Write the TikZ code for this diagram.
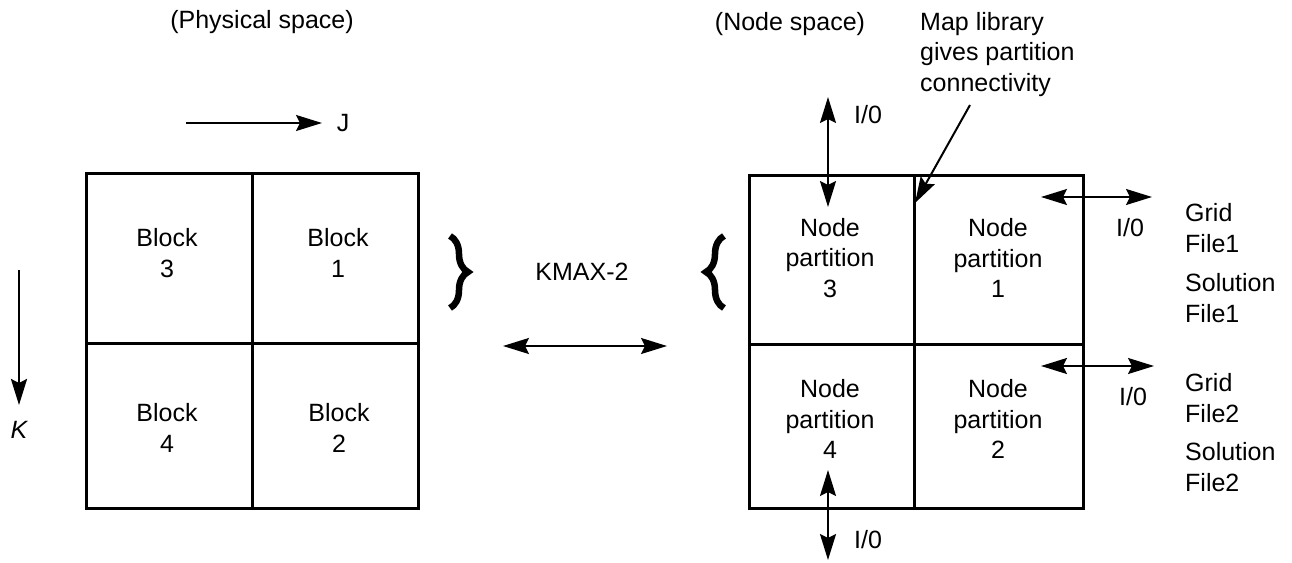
\documentclass[tikz,border=0pt]{standalone}
\usepackage{fontspec}
\setmainfont{Liberation Sans}
\usetikzlibrary{arrows.meta,decorations.pathreplacing}
\begin{document}
\begin{tikzpicture}[x=1pt,y=-1pt,
  txt/.style={font=\fontsize{25}{30.5}\selectfont, align=center, inner sep=0pt},
  ltxt/.style={font=\fontsize{25}{30.5}\selectfont, align=left, inner sep=0pt},
  cell/.style={draw, line width=2.8pt, inner sep=0pt, anchor=north west},
  ar/.style={line width=2pt, -{Stealth[length=26pt,width=16pt,inset=4pt]}},
  dar/.style={line width=2pt, {Stealth[length=26pt,width=16pt,inset=4pt]}-{Stealth[length=26pt,width=16pt,inset=4pt]}},
  brc/.style={decorate, decoration={brace, amplitude=18pt, aspect=0.5}, line width=6.5pt}]
\useasboundingbox (0,0) rectangle (1292,562);

% ---------- left grid (physical space)
\node[cell, minimum width=166pt, minimum height=170pt] (b3) at (85,172) {};
\node[cell, minimum width=166pt, minimum height=170pt] (b1) at (251,172) {};
\node[cell, minimum width=166pt, minimum height=165pt] (b4) at (85,342) {};
\node[cell, minimum width=166pt, minimum height=165pt] (b2) at (251,342) {};
\node[txt] (t3) at (167,253) {Block\\3};
\node[txt] (t1) at (338,253) {Block\\1};
\node[txt] (t4) at (167,428) {Block\\4};
\node[txt] (t2) at (339,428) {Block\\2};

\node[txt] (phys) at (262,22) {(Physical space)};
\node[txt] (J) at (343,123) {J};
\node[txt] (K) at (19,430) {\itshape K};
\coordinate (ja) at (186,123);
\coordinate (jb) at (322,123);
\draw[ar] (ja) -- (jb);
\coordinate (ka) at (19,270);
\coordinate (kb) at (19,405);
\draw[ar, line width=2.6pt] (ka) -- (kb);

% ---------- middle
\draw[brc] (450,236) -- (450,308);
\draw[brc] (724,308) -- (724,236);
\node[txt] (kmax) at (582,272) {KMAX-2};
\coordinate (ma) at (503,346);
\coordinate (mb) at (667,346);
\draw[dar] (ma) -- (mb);

% ---------- right grid (node space)
\node[cell, minimum width=165pt, minimum height=169pt] (p3) at (748,174) {};
\node[cell, minimum width=169pt, minimum height=169pt] (p1) at (913,174) {};
\node[cell, minimum width=165pt, minimum height=164pt] (p4) at (748,343) {};
\node[cell, minimum width=169pt, minimum height=164pt] (p2) at (913,343) {};
\node[txt] (n3) at (830,258) {Node\\partition\\3};
\node[txt] (n1) at (998,258) {Node\\partition\\1};
\node[txt] (n4) at (830,419) {Node\\partition\\4};
\node[txt] (n2) at (998,419) {Node\\partition\\2};

\node[txt] (nodesp) at (790,24) {(Node space)};
\node[ltxt, anchor=north west] (map) at (920,12) {Map library\\gives partition\\connectivity};
\coordinate (mapa) at (970,105);
\coordinate (mapb) at (915,203);
\draw[ar] (mapa) -- (mapb);

% I/O arrows
\coordinate (ta) at (828,97);
\coordinate (tb) at (828,207);
\draw[dar] (ta) -- (tb);
\node[txt] (io1) at (868,115) {I/0};

\coordinate (ba) at (828,470);
\coordinate (bb) at (828,560);
\draw[dar] (ba) -- (bb);
\node[txt] (io4) at (868,540) {I/0};

\coordinate (ra) at (1041,197);
\coordinate (rb) at (1152,197);
\draw[dar] (ra) -- (rb);
\node[txt] (io2) at (1130,228) {I/0};

\coordinate (sa) at (1041,366);
\coordinate (sb) at (1154,366);
\draw[dar] (sa) -- (sb);
\node[txt] (io3) at (1133,397) {I/0};

\node[ltxt, anchor=west] (g1) at (1185,228) {Grid\\File1};
\node[ltxt, anchor=west] (s1) at (1185,298) {Solution\\File1};
\node[ltxt, anchor=west] (g2) at (1185,398) {Grid\\File2};
\node[ltxt, anchor=west] (s2) at (1185,467) {Solution\\File2};
\end{tikzpicture}
\end{document}
